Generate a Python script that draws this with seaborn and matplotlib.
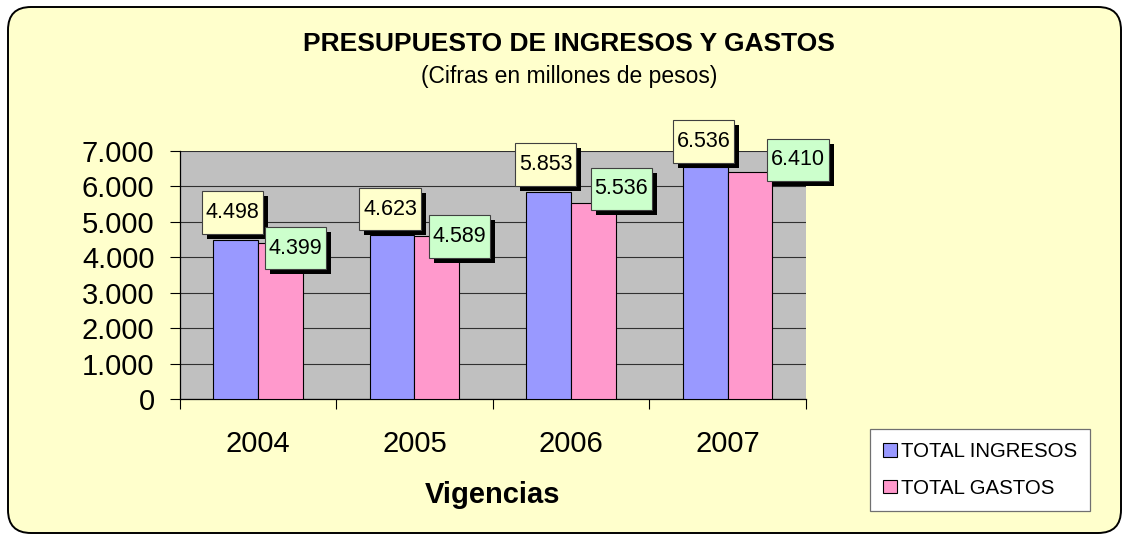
import matplotlib
matplotlib.use("Agg")
import matplotlib.pyplot as plt
import matplotlib.patheffects as pe
from matplotlib.patches import FancyBboxPatch
from matplotlib.path import Path
from matplotlib.transforms import IdentityTransform
from matplotlib.ticker import FuncFormatter, MultipleLocator, FixedLocator
import seaborn as sns
import pandas as pd

# ---- data ----
years = ["2004", "2005", "2006", "2007"]
ingresos = [4498, 4623, 5853, 6536]
gastos = [4399, 4589, 5536, 6410]
series_names = ["TOTAL INGRESOS", "TOTAL GASTOS"]
title = "PRESUPUESTO DE INGRESOS Y GASTOS"
subtitle = "(Cifras en millones de pesos)"
xlabel = "Vigencias"

# ---- styling ----
plt.rcParams["font.family"] = ["Liberation Sans", "DejaVu Sans"]
bar_colors = ["#9999FF", "#FF99CC"]
label_faces = ["#FFFFCC", "#CCFFCC"]
# per-label offsets in pixels (dx, dy) relative to the bar top
label_offsets = [
    [(-3, 27), (-2, 26), (-3, 27), (-2, 26)],
    [(15, -5), (23, 0), (28, 14), (48, 12)],
]


def label_box(x0, y0, width, height, mutation_size):
    px = 0.17 * mutation_size
    py = 0.5 * mutation_size
    x0, y0 = x0 - px, y0 - py
    x1, y1 = x0 + width + 2 * px, y0 + height + 2 * py
    return Path([(x0, y0), (x1, y0), (x1, y1), (x0, y1), (x0, y0)], closed=True)


df = pd.DataFrame({
    "Vigencia": years * 2,
    "Valor": ingresos + gastos,
    "Serie": [series_names[0]] * len(years) + [series_names[1]] * len(years),
})

W, H = 1124, 536
fig = plt.figure(figsize=(W / 100, H / 100), dpi=100, facecolor="white")

bg = FancyBboxPatch((8, 3), 1113, 526,
                    boxstyle="round,pad=0,rounding_size=23",
                    transform=IdentityTransform(),
                    facecolor="#FFFFCC", edgecolor="black", linewidth=1.4,
                    zorder=-5)
fig.add_artist(bg)

ax = fig.add_axes([179.5 / W, 1 - 399 / H, (806 - 179.5) / W, (399 - 151) / H])
ax.set_facecolor("#C0C0C0")

sns.barplot(data=df, x="Vigencia", y="Valor", hue="Serie", palette=bar_colors,
            width=0.571, saturation=1, edgecolor="black", linewidth=0.8,
            ax=ax, zorder=3)

ax.set_ylim(0, 7000)
ax.set_xlim(-0.5, len(years) - 0.5)
ax.yaxis.set_major_locator(MultipleLocator(1000))
ax.yaxis.set_major_formatter(FuncFormatter(lambda v, p: f"{int(v):,}".replace(",", ".")))
ax.grid(axis="y", color="#303030", linewidth=0.8, zorder=0)
ax.set_axisbelow(True)

for s in ["top", "right"]:
    ax.spines[s].set_visible(False)
for s in ["left", "bottom"]:
    ax.spines[s].set_color("black")
    ax.spines[s].set_linewidth(0.9)

ax.tick_params(axis="y", direction="out", length=7, width=0.8, pad=11,
               labelsize=21, colors="black")
ax.tick_params(axis="x", which="major", length=0, pad=22, labelsize=21)
ax.xaxis.set_minor_locator(FixedLocator([i - 0.5 for i in range(len(years) + 1)]))
ax.tick_params(axis="x", which="minor", direction="out", length=7, width=0.8)
ax.set_ylabel("")
ax.set_xlabel(xlabel, fontsize=21, fontweight="bold", labelpad=17)

# data labels
for ci, cont in enumerate(ax.containers):
    for bi, bar in enumerate(cont):
        h = bar.get_height()
        cx = bar.get_x() + bar.get_width() / 2
        dx, dy = label_offsets[ci][bi]
        t = ax.annotate(f"{int(round(h)):,}".replace(",", "."), xy=(cx, h),
                        xytext=(dx, dy), textcoords="offset pixels",
                        ha="center", va="center", fontsize=15.5, zorder=6,
                        annotation_clip=False,
                        bbox=dict(boxstyle=label_box, facecolor=label_faces[ci],
                                  edgecolor="#404040", linewidth=0.8))
        t.get_bbox_patch().set_path_effects([
            pe.SimplePatchShadow(offset=(3.6, -3.6), shadow_rgbFace="black", alpha=1),
            pe.Normal()])

# legend
handles, labels = ax.get_legend_handles_labels()
leg = ax.legend(handles, labels, loc="upper left",
                bbox_to_anchor=(870 / W, 1 - 429 / H), bbox_transform=fig.transFigure,
                borderaxespad=0, fontsize=14.7, frameon=True, fancybox=False,
                edgecolor="#707070", facecolor="white", framealpha=1,
                handlelength=0.65, handleheight=0.65, handletextpad=0.2,
                labelspacing=0.85, borderpad=0.65)
leg.get_frame().set_linewidth(0.9)

fig.text(569 / W, 1 - 44 / H, title, ha="center", va="center",
         fontsize=19, fontweight="bold")
fig.text(569 / W, 1 - 76 / H, subtitle, ha="center", va="center", fontsize=16.5)

fig.savefig("out.png", dpi=100, facecolor="white")
